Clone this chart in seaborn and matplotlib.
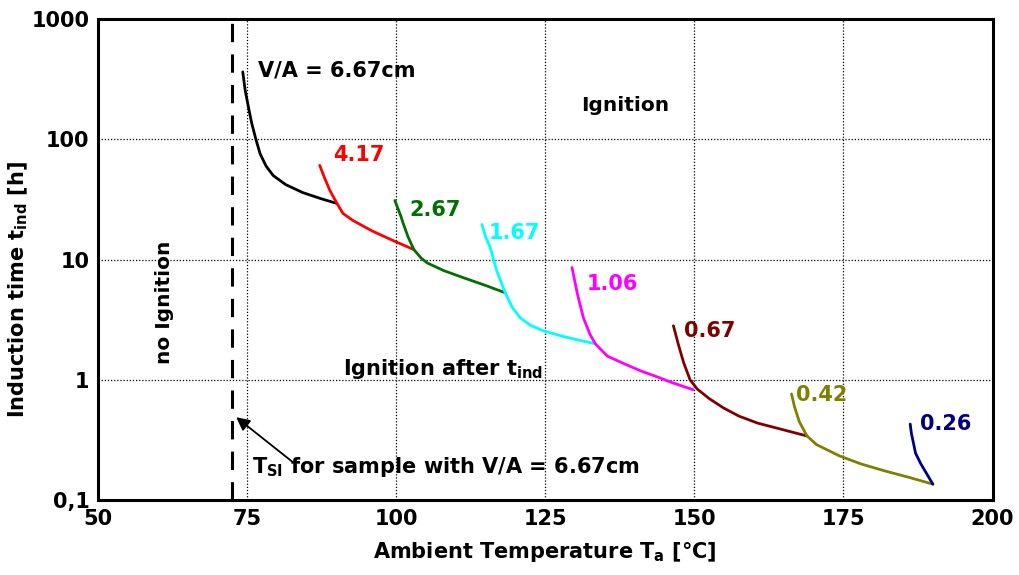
import numpy as np
import pandas as pd
import matplotlib
matplotlib.use("Agg")
import matplotlib.pyplot as plt
import seaborn as sns
from matplotlib.ticker import FixedLocator, FixedFormatter, NullFormatter

# ---- data ----
labels = ["6.67", "4.17", "2.67", "1.67", "1.06", "0.67", "0.42", "0.26"]
colors = ["#000000", "#ff0000", "#007000", "#00ffff", "#ff00ff", "#800000", "#808000", "#000080"]

T_667 = [74.3, 74.7, 75.3, 75.8, 76.5, 77.2, 78.2, 79.4, 81.5, 84.4, 87.5, 90.1]
t_667 = [363, 256, 180, 136, 100, 76, 60, 50, 42, 36, 32, 29.3]
T_417 = [87.2, 88.0, 88.9, 90.1, 91.1, 92.8, 96.0, 99.5, 103.0]
t_417 = [60.7, 48, 37.6, 29.3, 24.2, 21.1, 17.3, 14.4, 12.1]
T_267 = [99.8, 100.8, 101.2, 102.0, 103.0, 104.2, 105.2, 108.0, 111.2, 115.0, 118.3]
t_267 = [31, 23, 20, 15.5, 12.1, 10.3, 9.4, 8.1, 7.1, 6.1, 5.3]
T_167 = [114.4, 115.0, 115.8, 116.8, 118.3, 119.5, 120.8, 122.5, 124.7, 128.0, 131.0, 133.4]
t_167 = [19.6, 15.5, 12.6, 8.3, 5.3, 4.0, 3.29, 2.85, 2.56, 2.3, 2.12, 2.0]
T_106 = [129.5, 130.4, 131.4, 132.5, 133.4, 135.4, 138.0, 141.0, 144.0, 146.0, 149.8]
t_106 = [8.6, 5.2, 3.3, 2.4, 2.0, 1.58, 1.38, 1.19, 1.05, 0.96, 0.83]
T_067 = [146.5, 147.3, 148.2, 149.3, 150.5, 152.5, 154.9, 157.5, 160.6, 164.5, 168.9]
t_067 = [2.82, 2.0, 1.4, 1.0, 0.84, 0.7, 0.585, 0.5, 0.438, 0.39, 0.342]
T_042 = [166.3, 166.8, 167.6, 168.9, 170.5, 174.4, 178.0, 182.0, 186.0, 190.0]
t_042 = [0.765, 0.6, 0.45, 0.342, 0.29, 0.233, 0.2, 0.175, 0.155, 0.136]
T_026 = [186.2, 186.4, 186.8, 187.1, 188.0, 189.0, 190.0]
t_026 = [0.43, 0.36, 0.29, 0.246, 0.2, 0.165, 0.136]

curves_T = [T_667, T_417, T_267, T_167, T_106, T_067, T_042, T_026]
curves_t = [t_667, t_417, t_267, t_167, t_106, t_067, t_042, t_026]

# label positions (data coords, left edge / vertical centre)
label_T = [76.8, 89.4, 102.3, 115.6, 132.0, 148.2, 167.1, 187.8]
label_t = [376, 73.6, 25.6, 16.8, 6.3, 2.56, 0.75, 0.43]
label_txt = ["V/A = 6.67cm", "4.17", "2.67", "1.67", "1.06", "0.67", "0.42", "0.26"]

T_SI = 72.5
x_ticks = [50, 75, 100, 125, 150, 175, 200]
y_ticks = [0.1, 1, 10, 100, 1000]
y_ticklabels = ["0,1", "1", "10", "100", "1000"]

# ---- build frame ----
rows = []
for lab, Ts, ts in zip(labels, curves_T, curves_t):
    for i, (a, b) in enumerate(zip(Ts, ts)):
        rows.append({"series": lab, "T": a, "t": b, "order": i})
df = pd.DataFrame(rows)

sns.set_theme(style="white")
plt.rcParams["font.family"] = ["DejaVu Sans"]
plt.rcParams["font.weight"] = "bold"
plt.rcParams["text.color"] = "black"
plt.rcParams["axes.labelcolor"] = "black"
plt.rcParams["xtick.color"] = "black"
plt.rcParams["ytick.color"] = "black"
plt.rcParams["mathtext.fontset"] = "custom"
plt.rcParams["mathtext.rm"] = "DejaVu Sans:bold"
plt.rcParams["mathtext.it"] = "DejaVu Sans:bold"
plt.rcParams["mathtext.bf"] = "DejaVu Sans:bold"

fig = plt.figure(figsize=(10.19, 5.75), dpi=100)
ax = fig.add_axes([0.096, 0.130, 0.878, 0.837])

sns.lineplot(data=df, x="T", y="t", hue="series", hue_order=labels,
             palette=dict(zip(labels, colors)), sort=False, estimator=None,
             units="series", linewidth=2.0, legend=False, ax=ax)

ax.set_yscale("log")
ax.set_xlim(50, 200)
ax.set_ylim(0.1, 1000)

# grid (dotted)
for gx in [75, 100, 125, 150, 175]:
    ax.axvline(gx, color="black", linestyle=(0, (1, 1.5)), linewidth=0.9, zorder=0)
for gy in [1, 10, 100]:
    ax.axhline(gy, color="black", linestyle=(0, (1, 1.5)), linewidth=0.9, zorder=0)

# dashed T_SI line
ax.axvline(T_SI, color="black", linestyle=(0, (6, 4)), linewidth=2.2, zorder=1)

# ticks
ax.xaxis.set_major_locator(FixedLocator(x_ticks))
ax.xaxis.set_minor_locator(FixedLocator(list(range(50, 201, 5))))
ax.yaxis.set_major_locator(FixedLocator(y_ticks))
ax.yaxis.set_major_formatter(FixedFormatter(y_ticklabels))
minor_y = [m * 10.0 ** e for e in range(-1, 3) for m in range(2, 10)]
ax.yaxis.set_minor_locator(FixedLocator(minor_y))
ax.yaxis.set_minor_formatter(NullFormatter())
ax.tick_params(axis="both", which="both", direction="in", top=False, right=False,
               width=1.3, color="black", labelcolor="black")
ax.tick_params(axis="both", which="major", length=6, labelsize=15, pad=6)
ax.tick_params(axis="both", which="minor", length=6)
for lbl in ax.get_xticklabels() + ax.get_yticklabels():
    lbl.set_fontweight("bold")

for sp in ax.spines.values():
    sp.set_linewidth(2.2)
    sp.set_color("black")

ax.set_xlabel(r"Ambient Temperature T$_{\rm a}$ [°C]", fontsize=15, fontweight="bold",
              color="black", labelpad=8)
ax.set_ylabel(r"Induction time t$_{\rm ind}$ [h]", fontsize=15, fontweight="bold",
              color="black")
ax.yaxis.set_label_coords(-0.076, 0.437)

# curve labels
for x, y, s, c in zip(label_T, label_t, label_txt, colors):
    ax.text(x, y, s, color=c, fontsize=15, fontweight="bold", ha="left", va="center")

ax.text(138.4, 192, "Ignition", fontsize=14.5, fontweight="bold", ha="center", va="center",
        color="black")
ax.text(91.1, 1.24, r"Ignition after t$_{\rm ind}$", fontsize=15, fontweight="bold",
        ha="left", va="center", color="black")
ax.text(61.2, 4.38, "no Ignition", fontsize=14.5, fontweight="bold", ha="center",
        va="center", rotation=90, color="black")
ax.text(75.8, 0.188, r"T$_{\rm SI}$ for sample with V/A = 6.67cm", fontsize=15,
        fontweight="bold", ha="left", va="center", color="black")
ax.annotate("", xy=(73.2, 0.49), xytext=(82.5, 0.211),
            arrowprops=dict(arrowstyle="-|>", color="black", lw=1.3,
                            shrinkA=0, shrinkB=0, mutation_scale=20))

fig.savefig("out.png", dpi=100)
